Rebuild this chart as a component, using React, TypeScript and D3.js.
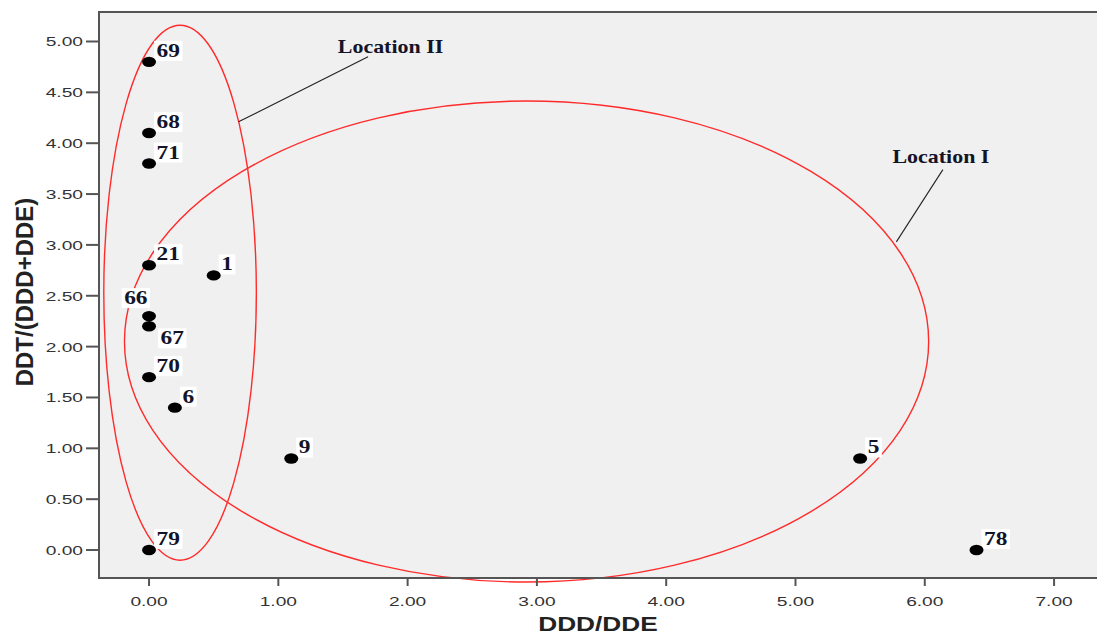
import React from 'react';
import * as d3 from 'd3';

// case numbers and values
const caseIds = ['69', '68', '71', '21', '1', '66', '67', '70', '6', '9', '5', '78', '79'];
const dddDde = [0, 0, 0, 0, 0.5, 0, 0, 0, 0.2, 1.1, 5.5, 6.4, 0];
const ddtRatio = [4.8, 4.1, 3.8, 2.8, 2.7, 2.3, 2.2, 1.7, 1.4, 0.9, 0.9, 0, 0];

const xTicks = [0, 1, 2, 3, 4, 5, 6, 7];
const yTicks = [0, 0.5, 1, 1.5, 2, 2.5, 3, 3.5, 4, 4.5, 5];

// ellipses in data units: [cx, cy, rx, ry]
const regionNames = ['Location II', 'Location I'];
const regionShapes = [
  [0.24, 2.53, 0.59, 2.63],
  [2.92, 2.05, 3.11, 2.365],
];
// label anchor and leader line (data units)
const regionLabelAt = [
  [1.46, 4.89],
  [5.75, 3.81],
];
const regionLeaders = [
  [[1.694, 4.85], [0.692, 4.21]],
  [[6.14, 3.74], [5.78, 3.03]],
];

// which side of the point the case label sits on
const labelSide: Record<string, string> = { '66': 'ul', '67': 'lr' };

const W = 1097;
const H = 637;
const plot = { left: 99, right: 1097, top: 12, bottom: 578 };

const sans = '"Liberation Sans", Arial, sans-serif';
const serif = '"Liberation Serif", "Times New Roman", serif';

export default function App() {
  const x = d3.scaleLinear().domain([-0.387, 7.332]).range([plot.left, plot.right]);
  const y = d3.scaleLinear().domain([-0.275, 5.29]).range([plot.bottom, plot.top]);

  const stretch = 1.3;
  const digitW = 9 * stretch;

  return (
    <svg width={W} height={H} style={{ position: 'absolute', left: 0, top: 0, background: '#fff' }}>
      <rect x={plot.left} y={plot.top} width={plot.right - plot.left} height={plot.bottom - plot.top} fill="#f0f0f0" />

      {/* region ellipses */}
      {regionShapes.map((s, i) => (
        <ellipse
          key={'e' + i}
          cx={x(s[0])}
          cy={y(s[1])}
          rx={x(s[0] + s[2]) - x(s[0])}
          ry={y(s[1] - s[3]) - y(s[1])}
          fill="none"
          stroke="#ff2b2b"
          strokeWidth={1.4}
        />
      ))}

      {/* leaders + region names */}
      {regionLeaders.map((l, i) => (
        <line key={'l' + i} x1={x(l[0][0])} y1={y(l[0][1])} x2={x(l[1][0])} y2={y(l[1][1])} stroke="#222" strokeWidth={1.1} />
      ))}
      {regionNames.map((n, i) => (
        <text
          key={'n' + i}
          transform={`translate(${x(regionLabelAt[i][0])},${y(regionLabelAt[i][1])}) scale(1.22,1)`}
          fontFamily={serif}
          fontWeight="bold"
          fontSize={18}
          fill="#141428"
        >
          {n}
        </text>
      ))}

      {/* frame */}
      <line x1={plot.left} x2={plot.left} y1={plot.top - 1} y2={plot.bottom + 1} stroke="#555" strokeWidth={2} />
      <line x1={plot.left} x2={plot.right} y1={plot.top} y2={plot.top} stroke="#555" strokeWidth={2} />
      <line x1={plot.left} x2={plot.right} y1={plot.bottom} y2={plot.bottom} stroke="#555" strokeWidth={2} />

      {/* y axis */}
      {yTicks.map((t) => (
        <g key={'y' + t}>
          <line x1={plot.left - 13} x2={plot.left} y1={y(t)} y2={y(t)} stroke="#555" strokeWidth={2} />
          <text
            transform={`translate(${plot.left - 16},${y(t) + 5}) scale(1.42,1)`}
            textAnchor="end"
            fontFamily={sans}
            fontSize={13.5}
            fill="#333"
          >
            {d3.format('.2f')(t)}
          </text>
        </g>
      ))}

      {/* x axis */}
      {xTicks.map((t) => (
        <g key={'x' + t}>
          <line x1={x(t)} x2={x(t)} y1={plot.bottom} y2={plot.bottom + 8} stroke="#555" strokeWidth={2} />
          <text
            transform={`translate(${x(t)},${plot.bottom + 28}) scale(1.42,1)`}
            textAnchor="middle"
            fontFamily={sans}
            fontSize={13.5}
            fill="#333"
          >
            {d3.format('.2f')(t)}
          </text>
        </g>
      ))}

      <text
        transform={`translate(${(plot.left + plot.right) / 2},631) scale(1.25,1)`}
        textAnchor="middle"
        fontFamily={sans}
        fontWeight="bold"
        fontSize={21}
        fill="#222"
      >
        DDD/DDE
      </text>
      <text
        transform="translate(33,292) rotate(-90)"
        textAnchor="middle"
        fontFamily={sans}
        fontWeight="bold"
        fontSize={24}
        fill="#222"
      >
        DDT/(DDD+DDE)
      </text>

      {/* case labels */}
      {caseIds.map((id, i) => {
        const px = x(dddDde[i]);
        const py = y(ddtRatio[i]);
        const bw = id.length * digitW + 5;
        const bh = 20;
        const side = labelSide[id] || 'ur';
        let bx = px + 5;
        let by = py - 1 - bh;
        if (side === 'ul') {
          bx = px + 1 - bw;
          by = py - 8 - bh;
        } else if (side === 'lr') {
          bx = px + 9;
          by = py + 2;
        }
        return (
          <g key={'c' + id}>
            <rect x={bx} y={by} width={bw} height={bh} fill="#fff" />
            <text
              transform={`translate(${bx + 2.5},${by + bh - 4}) scale(${stretch},1)`}
              fontFamily={serif}
              fontWeight="bold"
              fontSize={18}
              fill="#141428"
            >
              {id}
            </text>
          </g>
        );
      })}

      {/* points */}
      {caseIds.map((id, i) => (
        <ellipse key={'p' + id} cx={x(dddDde[i])} cy={y(ddtRatio[i])} rx={7} ry={5.2} fill="#000" />
      ))}
    </svg>
  );
}
